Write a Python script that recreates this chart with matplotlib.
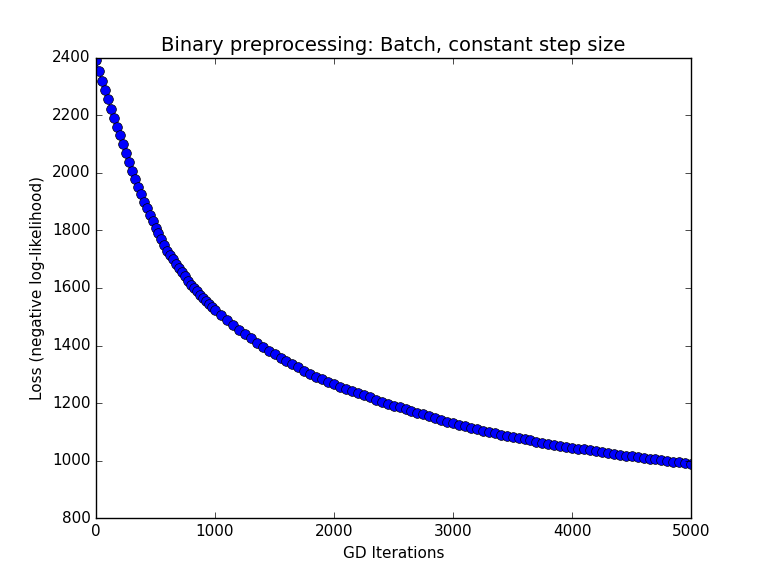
import matplotlib
matplotlib.use("Agg")
import matplotlib.pyplot as plt

plt.style.use("classic")

# Loss values, every 25 / 50 iterations
iters = [0, 25, 50, 75, 100, 125, 150, 175, 200, 225, 250, 275, 300, 325, 350,
         375, 400, 425, 450, 475, 500, 525, 550, 575, 600, 625, 650, 675, 700,
         725, 750, 775, 800, 825, 850, 875, 900, 925, 950, 975, 1000,
         1050, 1100, 1150, 1200, 1250, 1300, 1350, 1400, 1450, 1500, 1550, 1600,
         1650, 1700, 1750, 1800, 1850, 1900, 1950, 2000, 2050, 2100, 2150, 2200,
         2250, 2300, 2350, 2400, 2450, 2500, 2550, 2600, 2650, 2700, 2750, 2800,
         2850, 2900, 2950, 3000, 3050, 3100, 3150, 3200, 3250, 3300, 3350, 3400,
         3450, 3500, 3550, 3600, 3650, 3700, 3750, 3800, 3850, 3900, 3950, 4000,
         4050, 4100, 4150, 4200, 4250, 4300, 4350, 4400, 4450, 4500, 4550, 4600,
         4650, 4700, 4750, 4800, 4850, 4900, 4950, 5000]
loss = [2390, 2355, 2320, 2288, 2255, 2222, 2190, 2160, 2130, 2100, 2070, 2038,
        2005, 1978, 1950, 1925, 1900, 1877, 1855, 1832, 1810, 1790, 1770, 1750,
        1730, 1715, 1700, 1685, 1670, 1655, 1640, 1625, 1610, 1599, 1588, 1576,
        1565, 1555, 1545, 1535, 1525,
        1507, 1490, 1472, 1455, 1440, 1425, 1410, 1395, 1382, 1370, 1357, 1345,
        1335, 1325, 1312, 1300, 1292, 1285, 1275, 1265, 1257, 1250, 1242, 1235,
        1227, 1220, 1212, 1205, 1198, 1192, 1186, 1180, 1173, 1167, 1161, 1155,
        1148, 1142, 1136, 1130, 1125, 1120, 1115, 1110, 1105, 1100, 1095, 1090,
        1086, 1082, 1078, 1075, 1071, 1067, 1063, 1060, 1056, 1052, 1048, 1045,
        1042, 1040, 1037, 1035, 1031, 1027, 1023, 1020, 1017, 1015, 1012, 1010,
        1007, 1005, 1002, 1000, 997, 995, 992, 990]

fig, ax = plt.subplots(figsize=(7.68, 5.76), dpi=100)
ax.plot(iters, loss, "b-o", markersize=7)
ax.set_xlim(0, 5000)
ax.set_ylim(800, 2400)
ax.set_title("Binary preprocessing: Batch, constant step size", fontsize=14)
ax.set_xlabel("GD Iterations", fontsize=11)
ax.set_ylabel("Loss (negative log-likelihood)", fontsize=11)
ax.tick_params(labelsize=11)
fig.savefig("out.png", dpi=100)
